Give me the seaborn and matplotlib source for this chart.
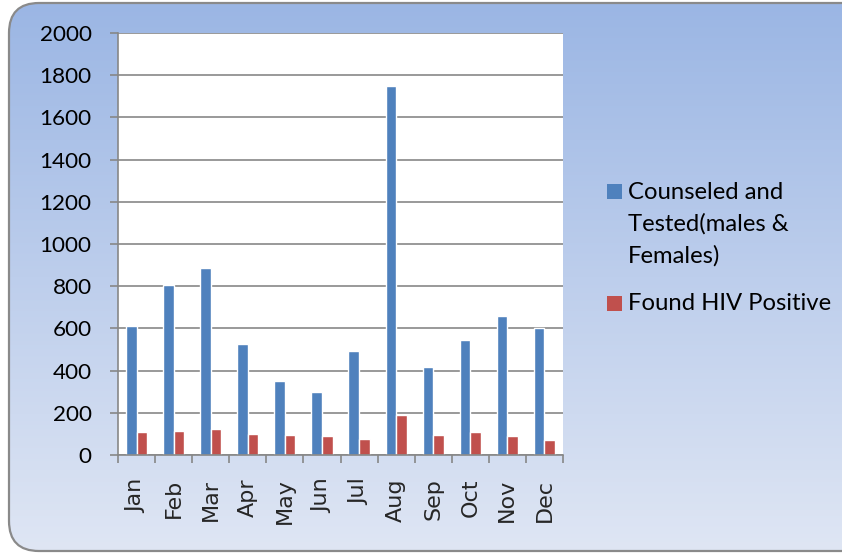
import numpy as np
import pandas as pd
import matplotlib
matplotlib.use("Agg")
import matplotlib.pyplot as plt
import seaborn as sns
from matplotlib.patches import FancyBboxPatch, Rectangle

# ---- data ----
months = ["Jan", "Feb", "Mar", "Apr", "May", "Jun", "Jul", "Aug", "Sep", "Oct", "Nov", "Dec"]
tested = [610, 805, 887, 525, 350, 300, 495, 1750, 415, 545, 660, 602]
positive = [108, 112, 122, 100, 95, 90, 77, 191, 93, 110, 88, 73]
series_names = ["Counseled and Tested(males & Females)", "Found HIV Positive"]
legend_lines = [["Counseled and", "Tested(males &", "Females)"], ["Found HIV Positive"]]
yticks = list(range(0, 2001, 200))
colors = ["#4F81BD", "#C0504D"]

df = pd.DataFrame({
    "Month": months * 2,
    "Series": [series_names[0]] * len(months) + [series_names[1]] * len(months),
    "Value": tested + positive,
})

sns.set_theme(style="white")
plt.rcParams['font.family'] = ['Lato', 'DejaVu Sans']

W, H = 842, 554
fig = plt.figure(figsize=(W / 100, H / 100), dpi=100)
fig.patch.set_facecolor("white")

# background panel with gradient and rounded border
bg = fig.add_axes([0, 0, 1, 1])
bg.set_xlim(0, W)
bg.set_ylim(H, 0)
bg.axis("off")
grad = np.linspace(0, 1, 256)[:, None, None]
top = np.array([155, 182, 228]) / 255
bot = np.array([223, 230, 244]) / 255
img = top + (bot - top) * grad
img = np.repeat(img, 2, axis=1)
panel = FancyBboxPatch((9, 3), 870, 548, boxstyle="round,pad=0,rounding_size=30",
                       facecolor="none", edgecolor="#8a8a8a", lw=1.6, zorder=2,
                       transform=bg.transData)
im = bg.imshow(img, extent=[9, 879, 551, 3], aspect="auto", zorder=1)
bg.add_patch(panel)
im.set_clip_path(panel)

# legend (manual)
sq = 15
lfs = 17.2
bg.add_patch(Rectangle((607, 184), sq, sq, facecolor=colors[0], edgecolor="none", zorder=3))
bg.add_patch(Rectangle((607, 296), sq, sq, facecolor=colors[1], edgecolor="none", zorder=3))
for i, line in enumerate(legend_lines[0]):
    bg.text(628, 199 + 32 * i, line, fontsize=lfs, va="baseline", ha="left", color="black", zorder=3)
bg.text(628, 310, legend_lines[1][0], fontsize=lfs, va="baseline", ha="left", color="black", zorder=3)

# main axes
ax = fig.add_axes([118 / W, (H - 455) / H, 445 / W, 422 / H])
ax.set_facecolor("white")
sns.barplot(data=df, x="Month", y="Value", hue="Series", palette=colors,
            width=0.57, saturation=1, ax=ax, legend=False)
ax.set_ylim(0, 2000)
ax.set_xlim(-0.5, len(months) - 0.5)
ax.set_yticks(yticks)
ax.set_yticklabels([str(v) for v in yticks])
ax.set_xlabel("")
ax.set_ylabel("")

gc = "#878787"
ax.yaxis.grid(True, color=gc, lw=1.2)
ax.set_axisbelow(True)
for s in ["top", "right"]:
    ax.spines[s].set_visible(False)
for s in ["left", "bottom"]:
    ax.spines[s].set_color(gc)
    ax.spines[s].set_linewidth(1.2)

ax.tick_params(axis="y", direction="out", length=6, width=1.2, color=gc,
               labelsize=16.2, pad=13, left=True)
ax.set_xticks(np.arange(-0.5, len(months), 1), minor=True)
ax.tick_params(axis="x", which="major", length=0, pad=17)
ax.tick_params(axis="x", which="minor", direction="out", length=6, width=1.2, color=gc, bottom=True)
for lab in ax.get_xticklabels():
    lab.set_rotation(90)
    lab.set_fontfamily("DejaVu Sans")
    lab.set_fontsize(16)
for lab in ax.get_yticklabels():
    lab.set_color("black")

fig.savefig("out.png", dpi=100)
